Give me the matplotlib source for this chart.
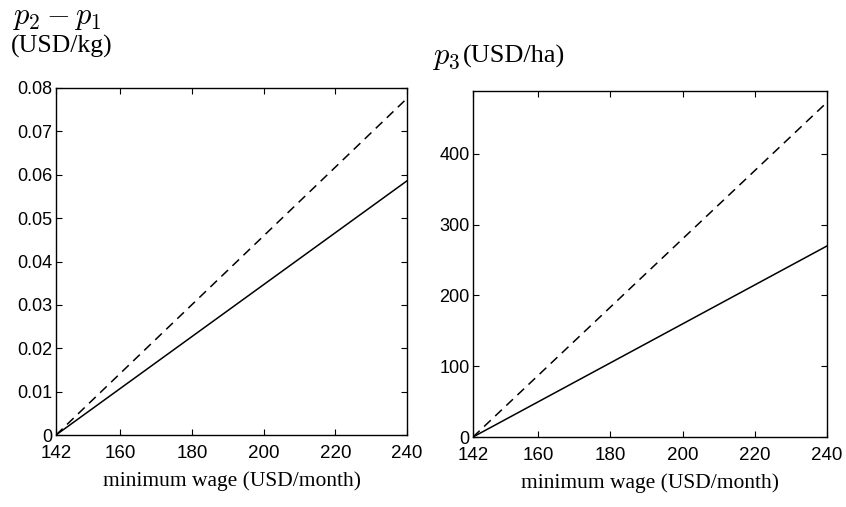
import numpy as np
import matplotlib.pyplot as plt

plt.rcParams['mathtext.fontset'] = 'cm'
plt.rcParams['font.family'] = ['Liberation Sans', 'DejaVu Sans']

# data
wage = [142, 240]
price_diff_dashed = [0.0, 0.0776]
price_diff_solid = [0.0, 0.0586]
p3_dashed = [0.0, 473.0]
p3_solid = [0.0, 270.0]

xticks = [142, 160, 180, 200, 220, 240]
yticks_left = [0, 0.01, 0.02, 0.03, 0.04, 0.05, 0.06, 0.07, 0.08]
yticks_right = [0, 100, 200, 300, 400]

fig = plt.figure(figsize=(8.46, 5.07), dpi=100)
W, H = 846, 507
ax1 = fig.add_axes([56 / W, 1 - 435 / H, (407 - 56) / W, (435 - 88) / H])
ax2 = fig.add_axes([473 / W, 1 - 437 / H, (827 - 473) / W, (437 - 91) / H])

serif = ['Liberation Serif', 'DejaVu Serif']

for ax in (ax1, ax2):
    ax.set_xlim(142, 240)
    ax.set_xticks(xticks)
    ax.tick_params(direction='in', length=4, width=0.8, top=True, right=True)
    ax.tick_params(axis='x', pad=7.5, labelsize=13.5)
    ax.tick_params(axis='y', pad=2.5, labelsize=13)
    for s in ax.spines.values():
        s.set_linewidth(1.0)
    ax.set_xlabel('minimum wage (USD/month)', family=serif, fontsize=15.5, labelpad=6.5)

ax1.plot(wage, price_diff_dashed, 'k--', lw=1.1, dashes=(6, 4))
ax1.plot(wage, price_diff_solid, 'k-', lw=1.1)
ax1.set_ylim(0, 0.08)
ax1.set_yticks(yticks_left)
ax1.set_yticklabels(['0'] + ['%.2f' % v for v in yticks_left[1:]])

ax2.plot(wage, p3_dashed, 'k--', lw=1.1, dashes=(6, 4))
ax2.plot(wage, p3_solid, 'k-', lw=1.1)
ax2.set_ylim(0, 489)
ax2.set_yticks(yticks_right)

fig.text(12 / W, 1 - 17 / H, r'$p_2 - p_1$', fontsize=22, va='center', ha='left')
fig.text(11 / W, 1 - 46 / H, '(USD/kg)', family=serif, fontsize=18.5, va='center', ha='left')
fig.text(432 / W, 1 - 57 / H, r'$p_3$', fontsize=22, va='center', ha='left')
fig.text(463 / W, 1 - 56 / H, '(USD/ha)', family=serif, fontsize=19, va='center', ha='left')

fig.savefig('out.png', dpi=100)
